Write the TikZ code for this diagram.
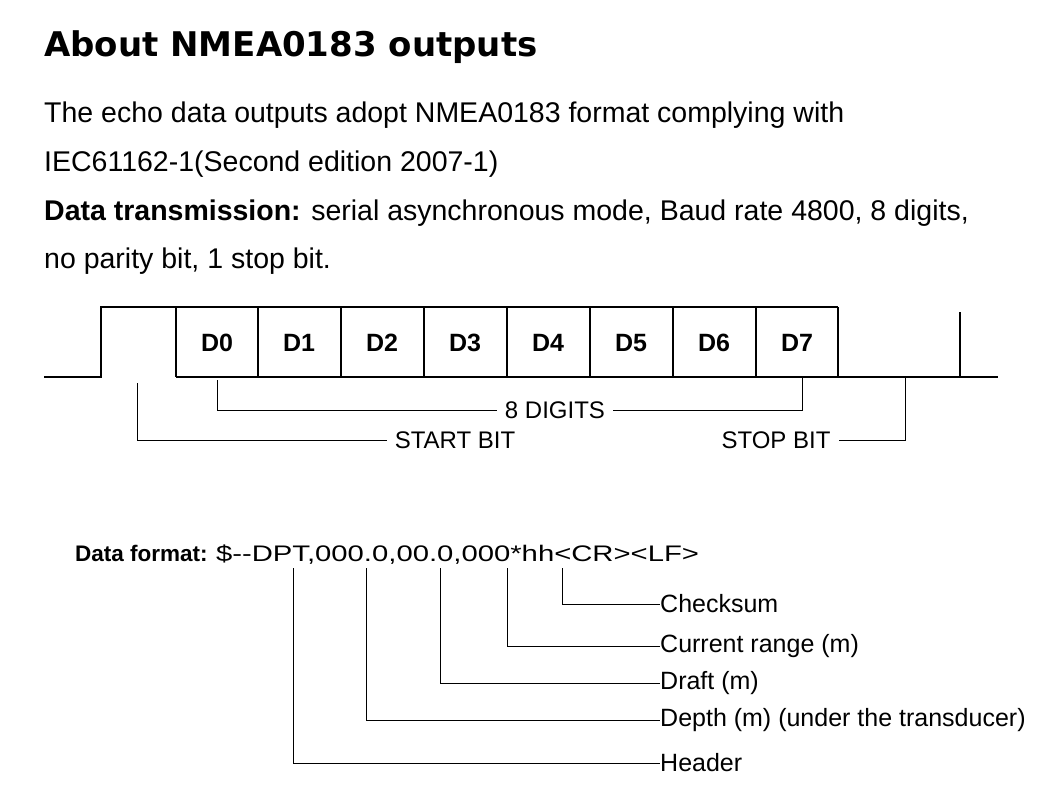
\documentclass[tikz,border=0pt]{standalone}
\usepackage{fontspec}
\setmainfont{Liberation Sans}
\newfontfamily\headfont{DejaVu Sans}
\begin{document}
\begin{tikzpicture}[x=1pt,y=-1pt,
  sig/.style={line width=1.3pt},
  brk/.style={line width=1pt},
  body/.style={anchor=base west,inner sep=0pt,font=\fontsize{28.5}{32}\selectfont},
  bit/.style={font=\bfseries\fontsize{25}{28}\selectfont},
  blab/.style={inner sep=8pt,fill=white,font=\fontsize{24}{28}\selectfont},
  flab/.style={anchor=west,inner sep=0pt,font=\fontsize{25}{28}\selectfont}]
\useasboundingbox (0,0) rectangle (1055,793);
\node[anchor=base west,inner sep=0pt,font=\headfont\bfseries\fontsize{34}{38}\selectfont] (title) at (44,56) {About NMEA0183 outputs};
\node[body] (l1) at (44,122) {The echo data outputs adopt NMEA0183 format complying with};
\node[body] (l2) at (44,171) {IEC61162-1(Second edition 2007-1)};
\node[body] (l3) at (44,220) {\textbf{Data transmission:} serial asynchronous mode, Baud rate 4800, 8 digits,};
\node[body] (l4) at (44,268) {no parity bit, 1 stop bit.};
% timing
\draw[sig] (44,377) -- (101,377) -- (101,307) -- (838,307);
\draw[sig] (176,377) -- (998,377);
\foreach \i [count=\k from 0] in {176,258,341,424,507,590,673,756}{
  \draw[sig] (\i,307) -- (\i,377);
  \node[bit] (d\k) at ({\i+41},343) {D\k};
}
\draw[sig] (838,307) -- (838,377);
\draw[sig] (960,312) -- (960,377);
\node[blab] (dig) at (555,410) {8 DIGITS};
\node[blab] (start) at (455,440) {START BIT};
\node[blab] (stop) at (776,440) {STOP BIT};
\draw[brk] (217,380) |- (dig.west);
\draw[brk] (802,377) |- (dig.east);
\draw[brk] (137,383) |- (start.west);
\draw[brk] (905,377) |- (stop.east);
% data format
\node[anchor=base west,inner sep=0pt] (fmt) at (75,561) {\fontsize{22.5}{26}\selectfont\textbf{Data format:} \scalebox{1.3}[1]{\$-{}-DPT,000.0,00.0,000*hh<CR><LF>}};
\node[flab] (ck) at (660,604) {Checksum};
\node[flab] (cr) at (660,646) {Current range (m)};
\node[flab] (dr) at (660,683) {Draft (m)};
\node[flab] (dp) at (660,720) {Depth (m) (under the transducer)};
\node[flab] (hd) at (660,763) {Header};
\draw[brk] (562,568) |- (ck.west);
\draw[brk] (507,568) |- (cr.west);
\draw[brk] (440,568) |- (dr.west);
\draw[brk] (366,568) |- (dp.west);
\draw[brk] (293,568) |- (hd.west);
\end{tikzpicture}
\end{document}
